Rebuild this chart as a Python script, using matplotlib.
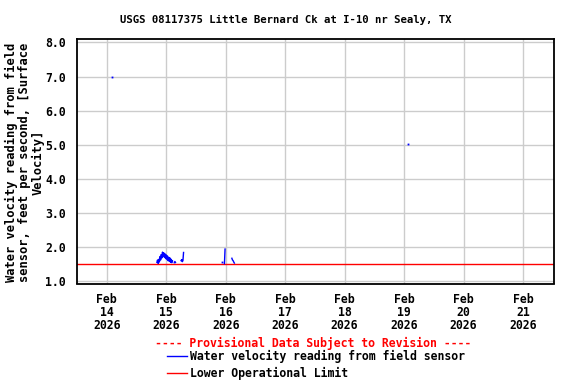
import matplotlib
matplotlib.use("Agg")
import matplotlib.pyplot as plt
from matplotlib.lines import Line2D
import numpy as np
import pandas as pd

title = "USGS 08117375 Little Bernard Ck at I-10 nr Sealy, TX"
ylabel = "Water velocity reading from field\nsensor, feet per second, [Surface\nVelocity]"
lower_limit = 1.5
y_ticks = [1.0, 2.0, 3.0, 4.0, 5.0, 6.0, 7.0, 8.0]
x_tick_days = ["2026-02-14", "2026-02-15", "2026-02-16", "2026-02-17",
               "2026-02-18", "2026-02-19", "2026-02-20", "2026-02-21"]

obs_times = [
    "2026-02-14 02:00", "2026-02-14 02:15",
    "2026-02-14 20:00",
    "2026-02-14 20:15", "2026-02-14 20:30", "2026-02-14 20:45", "2026-02-14 21:00",
    "2026-02-14 21:15", "2026-02-14 21:30", "2026-02-14 21:45", "2026-02-14 22:00",
    "2026-02-14 22:15", "2026-02-14 22:30", "2026-02-14 22:45", "2026-02-14 23:00",
    "2026-02-14 23:15", "2026-02-14 23:30", "2026-02-14 23:45", "2026-02-15 00:00",
    "2026-02-15 00:15", "2026-02-15 00:30", "2026-02-15 00:45", "2026-02-15 01:00",
    "2026-02-15 01:15", "2026-02-15 01:30", "2026-02-15 01:45", "2026-02-15 02:00",
    "2026-02-15 02:15", "2026-02-15 02:30", "2026-02-15 02:45", "2026-02-15 03:00",
    "2026-02-15 03:15", "2026-02-15 03:30", "2026-02-15 03:45", "2026-02-15 04:00",
    "2026-02-15 06:00", "2026-02-15 06:15", "2026-02-15 06:30", "2026-02-15 06:45",
    "2026-02-15 07:00", "2026-02-15 07:15",
    "2026-02-15 22:30", "2026-02-15 22:45",
    "2026-02-15 23:30", "2026-02-15 23:45", "2026-02-16 00:00",
    "2026-02-16 02:30", "2026-02-16 02:45", "2026-02-16 03:00", "2026-02-16 03:15",
    "2026-02-16 03:30", "2026-02-16 03:45",
    "2026-02-19 01:45", "2026-02-19 02:00",
]
obs_values = [
    7.00, np.nan,
    np.nan,
    1.55, 1.62, 1.52, 1.64,
    1.56, 1.72, 1.62, 1.78,
    1.68, 1.85, 1.74, 1.83,
    1.70, 1.80, 1.66, 1.77,
    1.64, 1.74, 1.60, 1.70,
    1.58, 1.68, 1.55, 1.64,
    1.54, 1.60, np.nan, 1.55,
    np.nan, 1.57, 1.55, np.nan,
    1.60, 1.63, 1.57, 1.60,
    1.84, np.nan,
    1.57, np.nan,
    1.51, 1.94, np.nan,
    1.67, 1.62, 1.60, 1.56,
    1.53, np.nan,
    5.02, np.nan,
]

t = pd.to_datetime(obs_times)
v = np.array(obs_values, dtype=float)

fig = plt.figure(figsize=(5.76, 3.84), dpi=100)
ax = fig.add_axes([77/576, 1-283.5/384, (554-77)/576, (283.5-39)/384])

mono = "DejaVu Sans Mono"
fs = 8.3

ax.plot(t, v, color="#0000ff", lw=1.0, zorder=3)
iso = []
for i in range(len(v)):
    if np.isnan(v[i]):
        continue
    prev_nan = i == 0 or np.isnan(v[i-1])
    next_nan = i == len(v)-1 or np.isnan(v[i+1])
    if prev_nan and next_nan:
        iso.append(i)
ax.plot(t[iso], v[iso], ls="none", marker="s", ms=1.3, mew=0,
        color="#0000ff", zorder=3)

ax.axhline(lower_limit, color="#ff0000", lw=1.0, zorder=2)

xmin = pd.Timestamp("2026-02-13 12:00")
xmax = pd.Timestamp("2026-02-21 12:30")
ax.set_xlim(xmin, xmax)
ax.set_ylim(0.93, 8.1)

ticks = pd.to_datetime(x_tick_days)
ax.set_xticks(ticks)
ax.set_xticklabels([d.strftime("%b\n%d\n%Y") for d in ticks],
                   fontfamily=mono, fontweight="bold", fontsize=fs, linespacing=0.98)
ax.set_yticks(y_ticks)
ax.set_yticklabels([f"{y:.1f}" for y in y_ticks],
                   fontfamily=mono, fontweight="bold", fontsize=fs)
ax.tick_params(axis="x", length=0, pad=7)
ax.tick_params(axis="y", length=0, pad=8)
ax.grid(True, color="#cccccc", lw=1.0)
ax.set_axisbelow(True)
for s in ax.spines.values():
    s.set_linewidth(1.3)
    s.set_color("black")

fig.text(286/576, 1 - 20/384, title, ha="center", va="center",
         fontfamily=mono, fontweight="bold", fontsize=7.7)
fig.text(25/576, 1 - 162/384, ylabel, ha="center", va="center", rotation=90,
         fontfamily=mono, fontweight="bold", fontsize=8.7, linespacing=1.05)

fig.text(313/576, 1 - 343/384, "---- Provisional Data Subject to Revision ----",
         ha="center", va="center", color="#ff0000",
         fontfamily=mono, fontweight="bold", fontsize=fs)
for ypx, col, lab in [(356, "#0000ff", "Water velocity reading from field sensor"),
                      (373, "#ff0000", "Lower Operational Limit")]:
    yf = 1 - ypx/384
    fig.add_artist(Line2D([167/576, 187/576], [yf, yf], color=col, lw=1.0))
    fig.text(190/576, yf, lab, ha="left", va="center",
             fontfamily=mono, fontweight="bold", fontsize=fs)

fig.savefig("out.png", dpi=100)
